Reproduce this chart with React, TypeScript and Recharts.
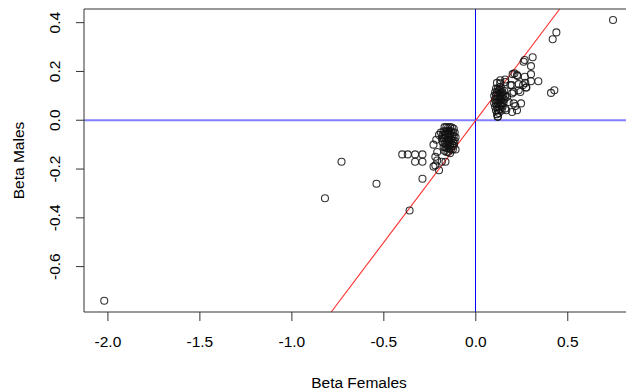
import React from "react";
import { ScatterChart, Scatter, XAxis, YAxis, ReferenceLine, Label } from "recharts";

const xTicks = [-2, -1.5, -1, -0.5, 0, 0.5];
const yTicks = [-0.6, -0.4, -0.2, 0, 0.2, 0.4];
const xDomain = [-2.13, 0.86];
const yDomain = [-0.786, 0.456];

// Scattered points
const betaFemalesA = [
  -2.02, -0.82, -0.73, -0.54, -0.36, -0.29, -0.40, -0.37, -0.33, -0.29, -0.33, -0.29,
  -0.23, -0.21, -0.22, -0.21, -0.22, -0.20, -0.23, -0.185, -0.165, -0.19, -0.20, -0.215,
  -0.11, -0.12,
];
const betaMalesA = [
  -0.74, -0.32, -0.17, -0.26, -0.37, -0.24, -0.14, -0.14, -0.14, -0.14, -0.17, -0.17,
  -0.10, -0.13, -0.15, -0.165, -0.185, -0.205, -0.19, -0.17, -0.17, -0.05, -0.06, -0.08,
  -0.12, -0.095,
];

// Dense negative cluster
const betaFemalesB = [
  -0.17, -0.16, -0.15, -0.14, -0.13, -0.12,
  -0.175, -0.165, -0.155, -0.145, -0.135, -0.125, -0.115,
  -0.18, -0.17, -0.16, -0.15, -0.14, -0.13, -0.12, -0.11,
  -0.185, -0.175, -0.165, -0.155, -0.145, -0.135, -0.125, -0.115,
  -0.18, -0.17, -0.16, -0.15, -0.14, -0.13, -0.12,
  -0.175, -0.165, -0.155, -0.145, -0.135, -0.125,
  -0.17, -0.16, -0.15, -0.14,
];
const betaMalesB = [
  -0.028, -0.028, -0.03, -0.028, -0.03, -0.035,
  -0.045, -0.045, -0.045, -0.045, -0.045, -0.05, -0.05,
  -0.06, -0.06, -0.06, -0.06, -0.06, -0.065, -0.065, -0.07,
  -0.075, -0.075, -0.075, -0.08, -0.08, -0.08, -0.085, -0.085,
  -0.09, -0.095, -0.095, -0.095, -0.1, -0.1, -0.105,
  -0.11, -0.11, -0.115, -0.115, -0.12, -0.12,
  -0.125, -0.13, -0.13, -0.135,
];

// Scattered positive points
const betaFemalesC = [
  0.746, 0.438, 0.418, 0.309, 0.266, 0.26, 0.30, 0.30, 0.30, 0.34, 0.427, 0.409,
  0.21, 0.227, 0.257, 0.275, 0.233, 0.195, 0.206, 0.266, 0.224, 0.188, 0.233, 0.269,
  0.133, 0.16, 0.13, 0.197, 0.17, 0.206, 0.178, 0.197, 0.16, 0.115, 0.133, 0.16,
  0.2, 0.242, 0.273, 0.246, 0.215, 0.224, 0.166, 0.119,
];
const betaMalesC = [
  0.411, 0.36, 0.332, 0.258, 0.247, 0.24, 0.222, 0.189, 0.16, 0.16, 0.123, 0.112,
  0.192, 0.181, 0.144, 0.134, 0.123, 0.144, 0.116, 0.178, 0.185, 0.144, 0.148, 0.153,
  0.151, 0.157, 0.126, 0.11, 0.096, 0.069, 0.075, 0.034, 0.048, 0.153, 0.164, 0.167,
  0.189, 0.116, 0.134, 0.069, 0.058, 0.041, 0.041, 0.014,
];

// Dense positive cluster
const betaFemalesD = [
  0.11, 0.12, 0.13, 0.14,
  0.105, 0.115, 0.125, 0.135, 0.145, 0.155,
  0.10, 0.11, 0.12, 0.13, 0.14, 0.15, 0.16,
  0.105, 0.115, 0.125, 0.135, 0.145, 0.155,
  0.10, 0.11, 0.12, 0.13, 0.14, 0.15,
  0.105, 0.115, 0.125, 0.135, 0.145,
  0.11, 0.12, 0.13, 0.14,
  0.115, 0.125, 0.12,
];
const betaMalesD = [
  0.13, 0.13, 0.135, 0.13,
  0.115, 0.115, 0.12, 0.115, 0.115, 0.12,
  0.10, 0.10, 0.10, 0.10, 0.10, 0.105, 0.10,
  0.085, 0.085, 0.085, 0.085, 0.09, 0.085,
  0.07, 0.07, 0.07, 0.07, 0.07, 0.07,
  0.055, 0.055, 0.055, 0.06, 0.055,
  0.04, 0.04, 0.045, 0.04,
  0.025, 0.03, 0.015,
];

const betaFemales = [...betaFemalesA, ...betaFemalesB, ...betaFemalesC, ...betaFemalesD];
const betaMales = [...betaMalesA, ...betaMalesB, ...betaMalesC, ...betaMalesD];
const points = betaFemales.map((x, i) => ({ x, y: betaMales[i] }));

const FONT = "'Liberation Sans', Arial, sans-serif";
const AXIS = "#333";

const XTick = (props: any) => {
  const { x, payload } = props;
  return (
    <text x={x} y={347} textAnchor="middle" fontSize={15.5} fontFamily={FONT} fill="#000">
      {Number(payload.value).toFixed(1)}
    </text>
  );
};

const YTick = (props: any) => {
  const { y, payload } = props;
  const bx = 60;
  return (
    <text
      x={bx}
      y={y}
      transform={`rotate(-90 ${bx} ${y})`}
      textAnchor="middle"
      fontSize={15.5}
      fontFamily={FONT}
      fill="#000"
    >
      {Number(payload.value).toFixed(1)}
    </text>
  );
};

const Dot = (props: any) => (
  <circle cx={props.cx} cy={props.cy} r={3.5} fill="none" stroke="#111" strokeOpacity={0.85} strokeWidth={1.1} />
);

export default function App() {
  return (
    <div style={{ position: "absolute", left: 0, top: 0, width: 626, height: 391, overflow: "hidden", background: "#fff" }}>
      <ScatterChart width={640} height={391} margin={{ top: 9, right: 6, bottom: 0, left: 0 }}>
        <XAxis
          type="number"
          dataKey="x"
          domain={xDomain}
          ticks={xTicks}
          allowDataOverflow
          height={79}
          tickSize={9}
          tick={<XTick />}
          axisLine={{ stroke: AXIS }}
          tickLine={{ stroke: AXIS }}
        >
          <Label
            content={() => (
              <text x={359} y={388} textAnchor="middle" fontSize={15.5} fontFamily={FONT} fill="#000">
                Beta Females
              </text>
            )}
          />
        </XAxis>
        <YAxis
          type="number"
          dataKey="y"
          domain={yDomain}
          ticks={yTicks}
          allowDataOverflow
          width={84}
          tickSize={8}
          tick={<YTick />}
          axisLine={{ stroke: AXIS }}
          tickLine={{ stroke: AXIS }}
        >
          <Label
            content={() => (
              <text
                x={24}
                y={160.5}
                transform="rotate(-90 24 160.5)"
                textAnchor="middle"
                fontSize={15.5}
                fontFamily={FONT}
                fill="#000"
              >
                Beta Males
              </text>
            )}
          />
        </YAxis>
        <Scatter data={points} shape={<Dot />} isAnimationActive={false} />
        <ReferenceLine y={0} stroke="#8080ff" strokeWidth={2} />
        <ReferenceLine x={0} stroke="#0000ff" strokeWidth={1} shapeRendering="crispEdges" />
        <ReferenceLine
          segment={[{ x: yDomain[0], y: yDomain[0] }, { x: yDomain[1], y: yDomain[1] }]}
          stroke="#ff2a2a"
          strokeWidth={1.1}
        />
        <ReferenceLine y={yDomain[1]} stroke={AXIS} strokeWidth={1} />
        <ReferenceLine x={xDomain[1]} stroke={AXIS} strokeWidth={1} />
      </ScatterChart>
    </div>
  );
}
